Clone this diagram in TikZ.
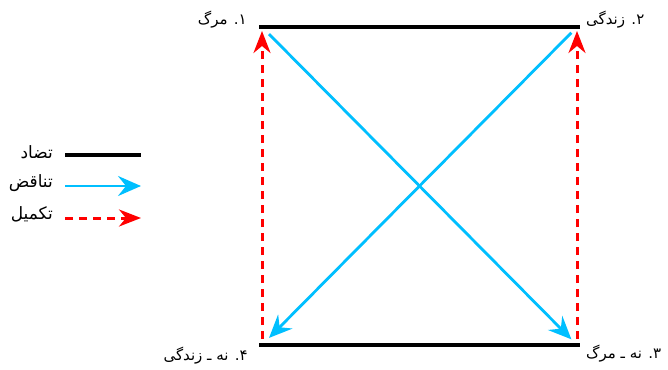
\documentclass[tikz,border=0pt]{standalone}
\usepackage{fontspec}
\newfontfamily\arabicfont[Script=Arabic]{DejaVu Sans}
\TeXXeTstate=1
\usetikzlibrary{arrows.meta}
\definecolor{cblue}{RGB}{0,191,255}
\definecolor{cred}{RGB}{255,0,0}
\tikzset{
  lbl/.style={font=\arabicfont\fontsize{15}{17}\selectfont, inner sep=0pt},
  leg/.style={font=\arabicfont\fontsize{17}{19}\selectfont, inner sep=0pt},
  contrary/.style={line width=3.2pt, black},
  contradict/.style={line width=2.8pt, cblue, -{Stealth[length=23pt,width=20pt,inset=8pt]}},
  complement/.style={line width=3pt, cred, dash pattern=on 8pt off 6pt, -{Stealth[length=22pt,width=17pt,inset=7pt]}},
}
\begin{document}
\begin{tikzpicture}[x=1pt,y=-1pt]
\useasboundingbox (0,0) rectangle (668,369);
\coordinate (c1) at (262,27);
\coordinate (c2) at (577,27);
\coordinate (c3) at (577,345);
\coordinate (c4) at (262,345);
\draw[contrary] (259,27) -- (580,27);
\draw[contrary] (259,345) -- (580,345);
\draw[complement, shorten <=6pt, shorten >=4pt] (c4) -- (c1);
\draw[complement, shorten <=6pt, shorten >=4pt] (c3) -- (c2);
\draw[contradict, shorten <=10pt, shorten >=8pt] (c1) -- (c3);
\draw[contradict, shorten <=8pt, shorten >=10pt] (c2) -- (c4);
\node[lbl, anchor=east] (l1) at (247,20) {\beginR ۱. مرگ\endR};
\node[lbl, anchor=west] (l2) at (586,20) {\beginR ۲. زندگی\endR};
\node[lbl, anchor=west] (l3) at (586,354) {\beginR ۳. نه ـ مرگ\endR};
\node[lbl, anchor=east] (l4) at (248,356) {\beginR ۴. نه ـ زندگی\endR};
% legend
\node[leg, anchor=east] (t1) at (53,152) {\beginR تضاد\endR};
\node[leg, anchor=east] (t2) at (53,183) {\beginR تناقض\endR};
\node[leg, anchor=east] (t3) at (53,214) {\beginR تکمیل\endR};
\coordinate (a1) at (65,155); \coordinate (b1) at (141,155);
\coordinate (a2) at (65,186); \coordinate (b2) at (141,186);
\coordinate (a3) at (65,218); \coordinate (b3) at (141,218);
\draw[contrary] (a1) -- (b1);
\draw[contradict] (a2) -- (b2);
\draw[complement] (a3) -- (b3);
\end{tikzpicture}
\end{document}
